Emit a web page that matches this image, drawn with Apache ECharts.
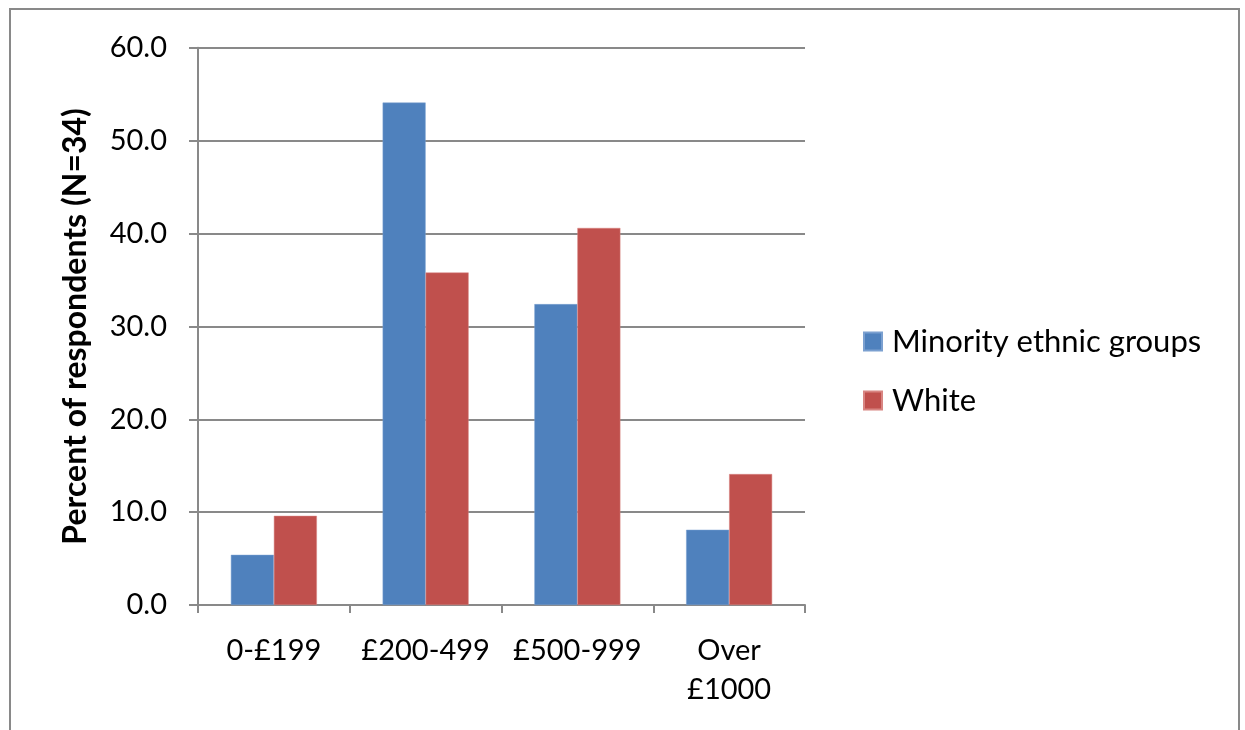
<!DOCTYPE html>
<html><head><meta charset="utf-8">
<script src="https://cdn.jsdelivr.net/npm/echarts@6/dist/echarts.min.js"></script>
<style>html,body{margin:0;padding:0;background:#fff;}#c{width:1245px;height:730px;}</style>
</head><body><div id="c"></div>
<script>
const categories = ['0-£199', '£200-499', '£500-999', 'Over\n£1000'];
const minority = [5.4, 54.1, 32.4, 8.1];
const white = [9.6, 35.8, 40.6, 14.1];
const yTicks = {min: 0, max: 60, interval: 10};

const FONT = 'Lato';
const chart = echarts.init(document.getElementById('c'), null, {renderer: 'canvas'});
chart.setOption({
  animation: false,
  backgroundColor: '#fff',
  graphic: [{type: 'rect', shape: {x: 10, y: 9, width: 1229, height: 740}, style: {fill: 'none', stroke: '#898989', lineWidth: 2}, silent: true}],
  grid: {left: 198, right: 440, top: 47.8, bottom: 125, containLabel: false},
  legend: {
    orient: 'vertical', left: 858, top: 321, itemWidth: 18, itemHeight: 18, itemGap: 28,
    icon: 'rect',
    textStyle: {fontFamily: FONT, fontSize: 31, color: '#000', padding: [0, 0, 0, 5]},
    data: ['Minority ethnic groups', 'White']
  },
  xAxis: {
    type: 'category', data: categories,
    axisLine: {lineStyle: {color: '#898989', width: 2}},
    axisTick: {show: true, length: 8, lineStyle: {color: '#898989', width: 2}, alignWithLabel: false},
    axisLabel: {fontFamily: FONT, fontSize: 29, color: '#000', margin: 26, lineHeight: 39, interval: 0}
  },
  yAxis: {
    type: 'value', min: yTicks.min, max: yTicks.max, interval: yTicks.interval,
    name: 'Percent of respondents (N=34)', nameLocation: 'middle', nameRotate: 90, nameGap: 106,
    nameTextStyle: {fontFamily: FONT, fontSize: 32, fontWeight: 'bold', color: '#000'},
    axisLine: {show: true, lineStyle: {color: '#898989', width: 2}},
    axisTick: {show: true, length: 9, inside: false, lineStyle: {color: '#898989', width: 2}},
    splitLine: {lineStyle: {color: '#898989', width: 2}},
    axisLabel: {fontFamily: FONT, fontSize: 29, color: '#000', margin: 31, formatter: v => v.toFixed(1)}
  },
  series: [
    {name: 'Minority ethnic groups', type: 'bar', data: minority, barWidth: 43, barGap: '0%',
     itemStyle: {color: '#4F81BD', borderColor: '#7BA0D0', borderWidth: 0.5}},
    {name: 'White', type: 'bar', data: white, barWidth: 43, barGap: '0%',
     itemStyle: {color: '#C0504D', borderColor: '#D88582', borderWidth: 0.5}}
  ]
});
</script></body></html>
